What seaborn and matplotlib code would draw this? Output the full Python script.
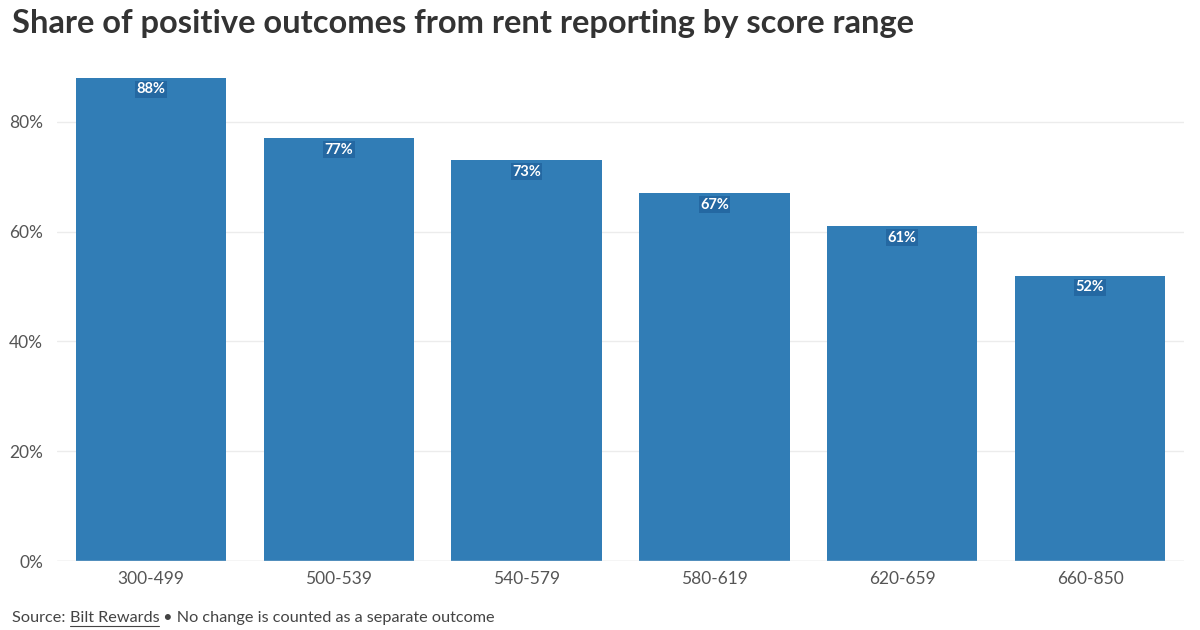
import matplotlib
matplotlib.use("Agg")
import matplotlib.pyplot as plt
import seaborn as sns
import pandas as pd

# data
score_ranges = ["300-499", "500-539", "540-579", "580-619", "620-659", "660-850"]
positive_share = [0.88, 0.77, 0.73, 0.67, 0.61, 0.52]
y_ticks = [0, 0.2, 0.4, 0.6, 0.8]
y_tick_labels = ["0%", "20%", "40%", "60%", "80%"]

df = pd.DataFrame({"range": score_ranges, "share": positive_share})

sns.set_theme(style="white")
plt.rcParams["font.family"] = ["Lato", "DejaVu Sans"]

fig = plt.figure(figsize=(12, 6.3), dpi=100)
ax = fig.add_axes([0.0475, 0.1095, 0.9392, 0.7842])

sns.barplot(data=df, x="range", y="share", color="#317db6", saturation=1,
            width=0.8, linewidth=0, ax=ax, zorder=3)

ax.set_xlim(-0.5, 5.5)
ax.set_ylim(0, 0.9)
ax.set_yticks(y_ticks)
ax.set_yticklabels(y_tick_labels)
ax.set_xlabel("")
ax.set_ylabel("")
for s in ax.spines.values():
    s.set_visible(False)
ax.grid(axis="y", color="#ececec", linewidth=1, zorder=0)
ax.axhline(0, color="#dddddd", linewidth=1, zorder=4)
ax.tick_params(axis="both", length=0, labelsize=12.5, colors="#555555")
ax.tick_params(axis="x", pad=7)
ax.tick_params(axis="y", pad=10)

for i, v in enumerate(positive_share):
    ax.text(i, v - 0.021, f"{v * 100:.0f}%", ha="center", va="center",
            fontsize=10.5, fontweight="bold", color="white", zorder=5,
            bbox=dict(boxstyle="square,pad=0.1", facecolor="#2468a2",
                      edgecolor="none"))

fig.text(0.01, 0.962, "Share of positive outcomes from rent reporting by score range",
         fontsize=23.5, fontweight="bold", color="#333333", ha="left", va="center")

# source line with underlined link
fig.canvas.draw()
r = fig.canvas.get_renderer()
x0 = 0.01
yb = 0.013
fs = 11.7
t1 = fig.text(x0, yb, "Source: ", fontsize=fs, color="#444444", ha="left", va="baseline")
w1 = t1.get_window_extent(r).width / fig.bbox.width
t2 = fig.text(x0 + w1, yb, "Bilt Rewards", fontsize=fs, color="#444444", ha="left", va="baseline")
w2 = t2.get_window_extent(r).width / fig.bbox.width
fig.add_artist(plt.Line2D([x0 + w1, x0 + w1 + w2], [yb - 0.006, yb - 0.006],
                          color="#444444", linewidth=0.8, transform=fig.transFigure))
fig.text(x0 + w1 + w2, yb, " \u2022 No change is counted as a separate outcome",
         fontsize=fs, color="#444444", ha="left", va="baseline")

fig.savefig("out.png", dpi=100)
